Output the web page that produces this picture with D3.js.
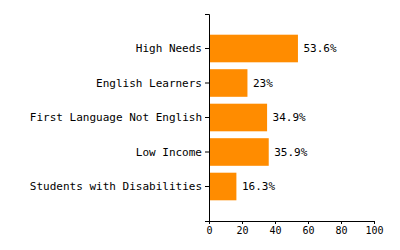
<!DOCTYPE html>
<html><head><meta charset="utf-8">
<script src="https://cdn.jsdelivr.net/npm/d3@7"></script>
<style>body{margin:0;background:#fff;} text{font-family:"DejaVu Sans Mono",monospace;}</style>
</head><body>
<svg id="c" width="400" height="250"></svg>
<script>
const categories = ["High Needs","English Learners","First Language Not English","Low Income","Students with Disabilities"];
const values = [53.6, 23, 34.9, 35.9, 16.3];
const valueLabels = ["53.6%","23%","34.9%","35.9%","16.3%"];
const xTicks = [0,20,40,60,80,100];

const svg = d3.select("#c");
const m = {left:209, top:14, right:26, bottom:29};
const W = 400 - m.left - m.right, H = 250 - m.top - m.bottom;
const g = svg.append("g").attr("transform",`translate(${m.left},${m.top})`);

const x = d3.scaleLinear().domain([0,100]).range([0,165]);
const y = d3.scaleBand().domain(categories).range([0,207]).paddingInner(0.2).paddingOuter(0.6);

g.selectAll("rect.bar").data(categories).join("rect")
  .attr("class","bar")
  .attr("x", x(0)+0.5)
  .attr("y", d=>y(d))
  .attr("width", (d,i)=>x(values[i]))
  .attr("height", y.bandwidth())
  .attr("fill","#FF8C00");

g.selectAll("text.val").data(categories).join("text")
  .attr("class","val")
  .attr("x",(d,i)=>x(values[i])+6)
  .attr("y",d=>y(d)+y.bandwidth()/2)
  .attr("dy","0.32em")
  .attr("font-size",11)
  .text((d,i)=>valueLabels[i]);

const yAx = g.append("g").call(d3.axisLeft(y).tickSize(4).tickSizeOuter(4));
yAx.selectAll("text").attr("font-size",11).attr("font-family","DejaVu Sans Mono");
const xAx = g.append("g").attr("transform",`translate(0,207)`).call(d3.axisBottom(x).tickValues(xTicks).tickSize(3).tickSizeOuter(3));
xAx.selectAll("text").attr("font-size",10).attr("font-family","DejaVu Sans Mono");
svg.selectAll(".domain, .tick line").attr("stroke","#000");
</script>
</body></html>
